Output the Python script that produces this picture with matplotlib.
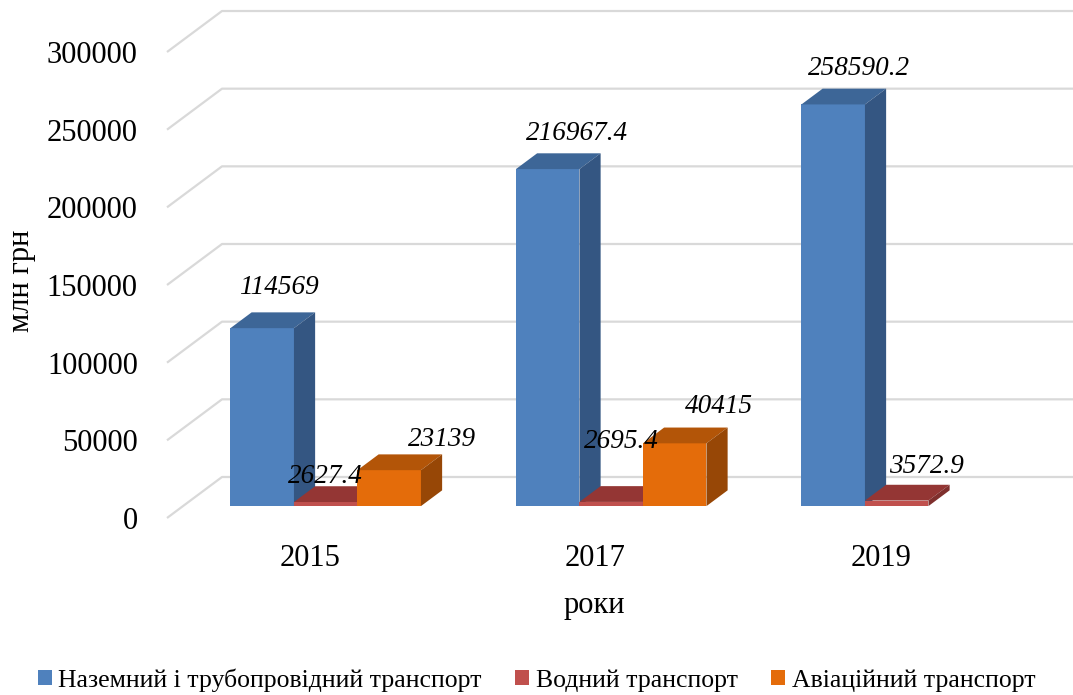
import numpy as np
import matplotlib.pyplot as plt
from matplotlib.patches import Patch, Polygon

# data
YEARS = ["2015", "2017", "2019"]
LAND = [114569, 216967.4, 258590.2]
WATER = [2627.4, 2695.4, 3572.9]
AIR = [23139, 40415, np.nan]
SERIES_NAMES = ["Наземний і трубопровідний транспорт", "Водний транспорт", "Авіаційний транспорт"]
Y_TICKS = [0, 50000, 100000, 150000, 200000, 250000, 300000]

# front, top, side colours
COLORS = [
    ("#4F81BD", "#3D6697", "#345682"),
    ("#C0504D", "#943634", "#7F2F2D"),
    ("#E46C0A", "#B35508", "#974706"),
]
# data-label offsets (pixels) from the back-top centre of each bar
LABEL_OFFSETS = [
    [(-4, 25), (8, 20), (5, 20)],
    [(-21, 10), (-11, 45), (9, 18)],
    [(32, 15), (23, 21), (0, 0)],
]

W_PX, H_PX = 1073, 695
LEFT_PX, FLOOR_PX = 167, 518
GROUP_PX = 285.5
PX_PER_VAL = 1.5533 / 1000
DEPTH_DX_PX, DEPTH_DY_PX = 55, 41
F0, F1 = 0.29, 0.675

plt.rcParams["font.family"] = ["Liberation Serif", "DejaVu Serif"]

fig = plt.figure(figsize=(W_PX / 100, H_PX / 100), dpi=100)
ax = fig.add_axes([LEFT_PX / W_PX, (H_PX - FLOOR_PX) / H_PX,
                   (W_PX - LEFT_PX) / W_PX, FLOOR_PX / H_PX])
x_max = -0.5 + (W_PX - LEFT_PX) / GROUP_PX
ax.set_xlim(-0.5, x_max)
ax.set_ylim(0, FLOOR_PX / PX_PER_VAL)

DX = DEPTH_DX_PX / GROUP_PX
DY = DEPTH_DY_PX / PX_PER_VAL

# back wall gridlines
for v in Y_TICKS:
    ax.plot([-0.5, -0.5 + DX, x_max], [v, v + DY, v + DY],
            color="#D9D9D9", lw=1.6, zorder=0, clip_on=False,
            solid_capstyle="butt")

w = 63.5 / GROUP_PX
ddx, ddy = (F1 - F0) * DX, (F1 - F0) * DY
x = np.arange(len(YEARS))
z = 2
for gi in range(len(YEARS)):
    for si, vals in enumerate([LAND, WATER, AIR]):
        v = vals[gi]
        if np.isnan(v):
            continue
        front, top, side = COLORS[si]
        x0 = x[gi] + (si - 1.5) * w + F0 * DX
        y0 = F0 * DY
        ax.bar(x0, v, width=w, bottom=y0, align="edge", color=front,
               edgecolor="none", zorder=z)
        ax.add_patch(Polygon([(x0, y0 + v), (x0 + w, y0 + v),
                              (x0 + w + ddx, y0 + v + ddy), (x0 + ddx, y0 + v + ddy)],
                             closed=True, facecolor=top, edgecolor="none", zorder=z))
        ax.add_patch(Polygon([(x0 + w, y0), (x0 + w, y0 + v),
                              (x0 + w + ddx, y0 + v + ddy), (x0 + w + ddx, y0 + ddy)],
                             closed=True, facecolor=side, edgecolor="none", zorder=z))
        z += 1
        ox, oy = LABEL_OFFSETS[si][gi]
        ax.annotate(f"{v:.10g}", (x0 + w / 2 + ddx, y0 + v + ddy),
                    xytext=(ox, oy), textcoords="offset pixels",
                    ha="center", va="center", fontsize=19.5, style="italic",
                    zorder=20)

ax.set_yticks(Y_TICKS)
ax.set_yticklabels([str(t) for t in Y_TICKS], fontsize=22)
ax.set_xticks(x)
ax.set_xticklabels(YEARS, fontsize=22)
ax.tick_params(axis="y", length=0, pad=21)
ax.tick_params(axis="x", length=0, pad=19)
for sp in ax.spines.values():
    sp.set_visible(False)

fig.text(594 / W_PX, 1 - 606 / H_PX, "роки", ha="center", va="center", fontsize=22)
fig.text(21 / W_PX, 1 - 281 / H_PX, "млн грн", ha="center", va="center",
         rotation=90, fontsize=22)

handles = [Patch(facecolor=c[0], edgecolor="none") for c in COLORS]
fig.legend(handles, SERIES_NAMES, loc="center", bbox_to_anchor=(0.5, 1 - 680 / H_PX),
           ncol=3, frameon=False, fontsize=18.5, handlelength=0.55, handleheight=0.55,
           handletextpad=0.25, columnspacing=1.3, borderpad=0)

fig.savefig("out.png", dpi=100)
